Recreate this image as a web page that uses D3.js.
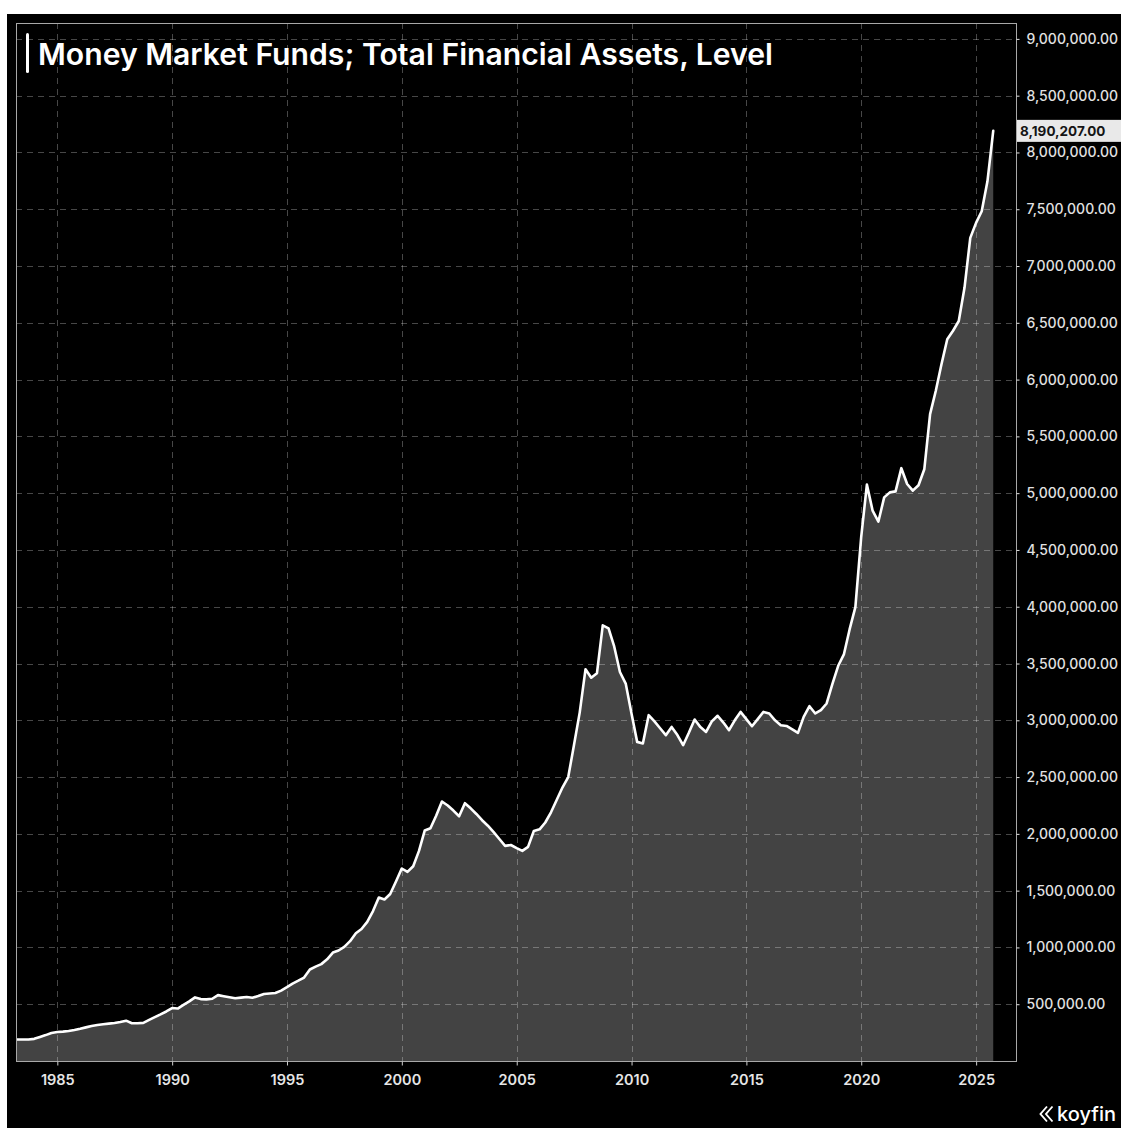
<!DOCTYPE html>
<html>
<head>
<meta charset="utf-8">
<script src="https://cdn.jsdelivr.net/npm/d3@7"></script>
<style>
  html, body { margin: 0; padding: 0; background: #ffffff; }
  svg { display: block; }
  text { font-family: Inter, "Noto Sans", "DejaVu Sans", sans-serif; }
</style>
</head>
<body>
<svg id="chart" width="1121" height="1128"></svg>
<script>
// Money market funds, total financial assets (millions of USD), quarterly.
// Each row: [year, Q1, Q2, Q3, Q4]
const assetsByYear = [
  [1983, 189000, 189000, 189000, 195000],
  [1984, 212000, 228000, 247000, 256000],
  [1985, 259000, 264000, 273000, 284000],
  [1986, 296000, 308000, 317000, 324000],
  [1987, 329000, 334000, 343000, 355000],
  [1988, 332000, 333000, 336000, 362000],
  [1989, 386000, 410000, 436000, 466000],
  [1990, 462000, 494000, 525000, 560000],
  [1991, 545000, 543000, 548000, 580000],
  [1992, 570000, 561000, 553000, 558000],
  [1993, 564000, 557000, 572000, 590000],
  [1994, 594000, 599000, 620000, 650000],
  [1995, 682000, 707000, 735000, 806000],
  [1996, 831000, 853000, 895000, 955000],
  [1997, 973000, 1005000, 1055000, 1125000],
  [1998, 1162000, 1225000, 1320000, 1440000],
  [1999, 1422000, 1470000, 1580000, 1695000],
  [2000, 1665000, 1715000, 1850000, 2030000],
  [2001, 2049000, 2160000, 2285000, 2250000],
  [2002, 2205000, 2155000, 2270000, 2225000],
  [2003, 2175000, 2120000, 2072000, 2015000],
  [2004, 1955000, 1894000, 1902000, 1875000],
  [2005, 1850000, 1885000, 2025000, 2040000],
  [2006, 2100000, 2190000, 2300000, 2410000],
  [2007, 2500000, 2780000, 3070000, 3450000],
  [2008, 3375000, 3415000, 3836000, 3810000],
  [2009, 3650000, 3425000, 3323000, 3060000],
  [2010, 2810000, 2796000, 3045000, 2990000],
  [2011, 2930000, 2869000, 2942000, 2870000],
  [2012, 2781000, 2890000, 3007000, 2940000],
  [2013, 2898000, 2990000, 3040000, 2980000],
  [2014, 2913000, 3000000, 3074000, 3010000],
  [2015, 2948000, 3010000, 3074000, 3060000],
  [2016, 3000000, 2957000, 2950000, 2920000],
  [2017, 2889000, 3030000, 3124000, 3060000],
  [2018, 3090000, 3148000, 3320000, 3480000],
  [2019, 3580000, 3800000, 3996000, 4610000],
  [2020, 5075000, 4846000, 4750000, 4963000],
  [2021, 5007000, 5016000, 5220000, 5081000],
  [2022, 5022000, 5070000, 5210000, 5696000],
  [2023, 5900000, 6135000, 6355000, 6430000],
  [2024, 6516000, 6808000, 7248000, 7380000],
  [2025, 7482000, 7746000, 8190207, null]
];

const yearTicks = [1985, 1990, 1995, 2000, 2005, 2010, 2015, 2020, 2025];
const valueTicks = [500000, 1000000, 1500000, 2000000, 2500000, 3000000, 3500000,
  4000000, 4500000, 5000000, 5500000, 6000000, 6500000, 7000000, 7500000,
  8000000, 8500000, 9000000];

const chartTitle = "Money Market Funds; Total Financial Assets, Level";
const brand = "koyfin";

// Flatten rows into dated points (dated at quarter end)
const series = [];
assetsByYear.forEach(row => {
  const year = row[0];
  for (let q = 1; q <= 4; q++) {
    const v = row[q];
    if (v == null) continue;
    series.push({ date: new Date(year, q * 3, 0), value: v });
  }
});
const lastPoint = series[series.length - 1];

const svg = d3.select("#chart");

// panel geometry
const panel = { x: 7, y: 14, w: 1114, h: 1114 };
const plot = { left: 16, top: 23, right: 1016, bottom: 1061 };

svg.append("rect")
  .attr("x", panel.x).attr("y", panel.y)
  .attr("width", panel.w).attr("height", panel.h)
  .attr("fill", "#000000");

const x = d3.scaleTime()
  .domain([new Date(1983, 2, 16), new Date(2026, 8, 27)])
  .range([plot.left, plot.right]);

const y = d3.scaleLinear()
  .domain([0, 9140000])
  .range([plot.bottom, plot.top]);

svg.append("clipPath").attr("id", "plotClip")
  .append("rect")
  .attr("x", plot.left).attr("y", plot.top)
  .attr("width", plot.right - plot.left)
  .attr("height", plot.bottom - plot.top);

const g = svg.append("g").attr("clip-path", "url(#plotClip)");

// filled area under the series
const area = d3.area()
  .x(d => x(d.date))
  .y0(y(0))
  .y1(d => y(d.value));

g.append("path")
  .datum(series)
  .attr("d", area)
  .attr("fill", "#434343");

// dashed grid
const grid = g.append("g")
  .attr("stroke", "rgba(255,255,255,0.28)")
  .attr("stroke-width", 1)
  .attr("stroke-dasharray", "6,5");

grid.selectAll("line.h")
  .data(valueTicks)
  .join("line")
  .attr("class", "h")
  .attr("x1", plot.left).attr("x2", plot.right)
  .attr("y1", d => Math.round(y(d)) + 0.5)
  .attr("y2", d => Math.round(y(d)) + 0.5);

grid.selectAll("line.v")
  .data(yearTicks)
  .join("line")
  .attr("class", "v")
  .attr("y1", plot.top).attr("y2", plot.bottom)
  .attr("x1", d => Math.round(x(new Date(d, 0, 1))) + 0.5)
  .attr("x2", d => Math.round(x(new Date(d, 0, 1))) + 0.5);

// series line
const line = d3.line()
  .x(d => x(d.date))
  .y(d => y(d.value));

g.append("path")
  .datum(series)
  .attr("d", line)
  .attr("fill", "none")
  .attr("stroke", "#ffffff")
  .attr("stroke-width", 2.6)
  .attr("stroke-linejoin", "round")
  .attr("stroke-linecap", "round");

// plot frame
svg.append("rect")
  .attr("x", plot.left + 0.5).attr("y", plot.top + 0.5)
  .attr("width", plot.right - plot.left)
  .attr("height", plot.bottom - plot.top)
  .attr("fill", "none")
  .attr("stroke", "#a8a8a8")
  .attr("stroke-width", 1);

// right value axis
const yAxis = d3.axisRight(y)
  .tickValues(valueTicks)
  .tickFormat(d3.format(",.2f"))
  .tickSize(3)
  .tickPadding(7);

const yAxisG = svg.append("g")
  .attr("transform", `translate(${plot.right + 0.5},0)`)
  .call(yAxis);
yAxisG.select(".domain").remove();
yAxisG.selectAll(".tick line").attr("stroke", "#e0e0e0");
yAxisG.selectAll(".tick text")
  .attr("fill", "#e2e2e2")
  .style("font-family", "Inter, sans-serif")
  .style("font-size", "14px")
  .style("font-weight", 500);

// bottom year axis
const xAxis = d3.axisBottom(x)
  .tickValues(yearTicks.map(yr => new Date(yr, 0, 1)))
  .tickFormat(d3.timeFormat("%Y"))
  .tickSize(4)
  .tickPadding(9);

const xAxisG = svg.append("g")
  .attr("transform", `translate(0,${plot.bottom + 0.5})`)
  .call(xAxis);
xAxisG.select(".domain").remove();
xAxisG.selectAll(".tick line").attr("stroke", "#cfcfcf");
xAxisG.selectAll(".tick text")
  .attr("fill", "#e6e6e6")
  .style("font-family", "Inter, sans-serif")
  .style("font-size", "14.5px")
  .style("font-weight", 600);

// last value badge
const badgeY = y(lastPoint.value);
svg.append("rect")
  .attr("x", plot.right + 1).attr("y", badgeY - 11)
  .attr("width", 1121 - plot.right - 1).attr("height", 22)
  .attr("fill", "#e9e9e9");
svg.append("text")
  .attr("x", plot.right + 4).attr("y", badgeY)
  .attr("dy", "0.35em")
  .attr("fill", "#151515")
  .style("font-size", "13.5px")
  .style("font-weight", 700)
  .text(d3.format(",.2f")(lastPoint.value));

// title with accent bar
svg.append("rect")
  .attr("x", 26).attr("y", 33)
  .attr("width", 3).attr("height", 40)
  .attr("rx", 1.5)
  .attr("fill", "#ffffff");

const title = svg.append("text")
  .attr("x", 38).attr("y", 65)
  .attr("fill", "#ffffff")
  .style("font-size", "27px")
  .style("font-weight", 600)
  .text(chartTitle);
const tw = title.node().getComputedTextLength();
if (tw > 0) title.style("font-size", (27 * 735 / tw).toFixed(2) + "px");

// brand mark
const logo = svg.append("g").attr("transform", "translate(1039,1114)");
logo.append("path")
  .attr("d", "M8,-7.5 L1.5,0 L8,7.5 M13.5,-7.5 L7,0 L13.5,7.5")
  .attr("fill", "none")
  .attr("stroke", "#ffffff")
  .attr("stroke-width", 1.9)
  .attr("stroke-linejoin", "miter");
logo.append("text")
  .attr("x", 18).attr("y", 6.5)
  .attr("fill", "#ffffff")
  .style("font-size", "20px")
  .style("font-weight", 500)
  .text(brand);
</script>
</body>
</html>
